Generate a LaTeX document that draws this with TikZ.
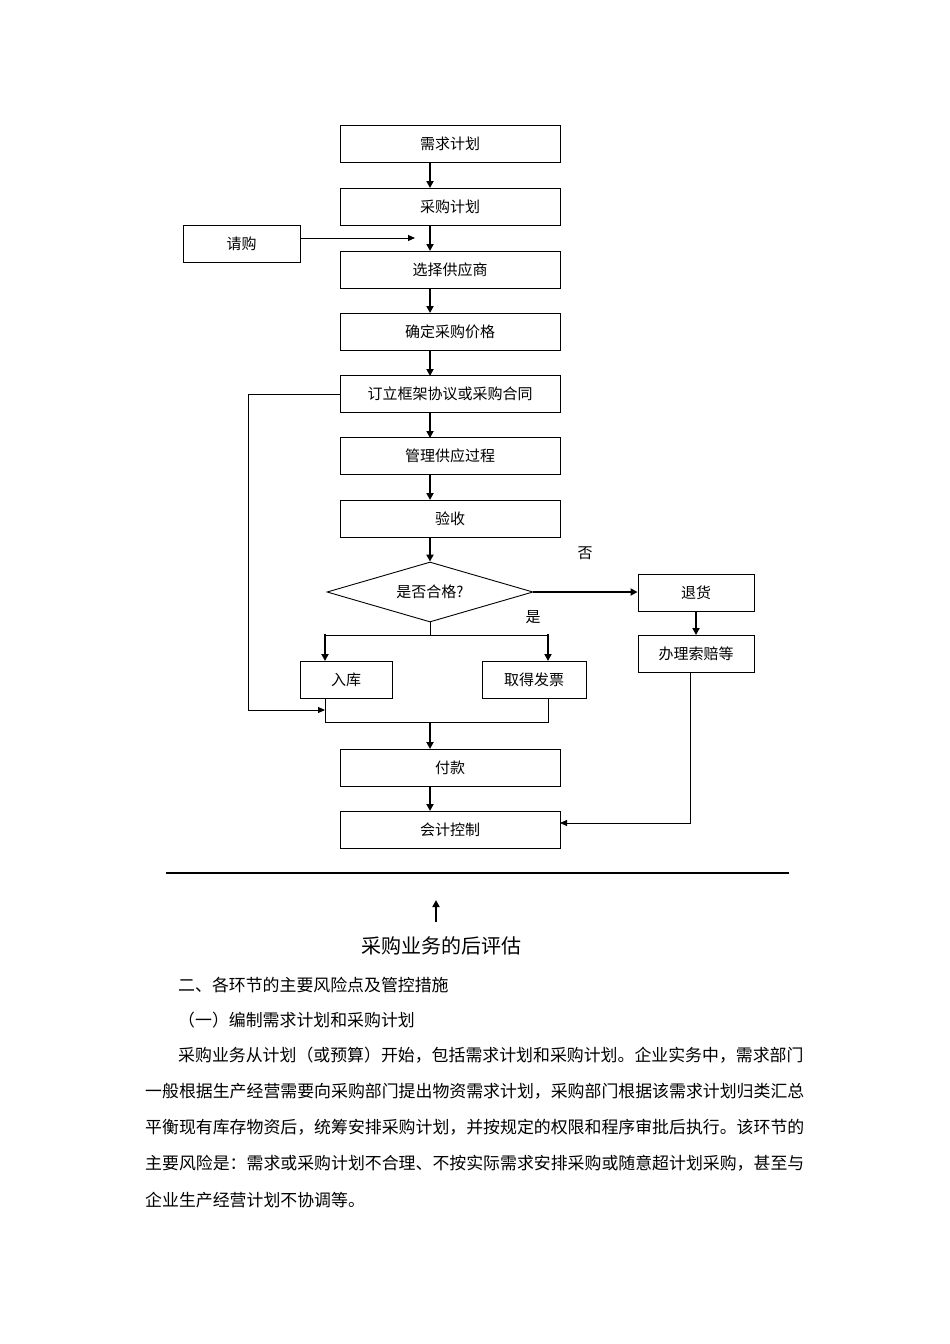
\documentclass[tikz,border=0pt]{standalone}
\usepackage{fontspec}
\setmainfont{Noto Sans CJK SC}
\usetikzlibrary{arrows.meta,shapes.geometric}
\begin{document}
\begin{tikzpicture}[x=1pt,y=-1pt,
  bx/.style={draw,line width=0.9pt,minimum height=37pt,inner sep=0pt,font=\fontsize{15}{15}\selectfont},
  ar/.style={line width=2pt,-{Triangle[length=7pt,width=7pt]}},
  ln/.style={line width=1pt},
  para/.style={anchor=west,inner sep=0pt,font=\fontsize{16.9}{17}\selectfont}]
\useasboundingbox[fill=white] (0,0) rectangle (950,1344);
\foreach \n/\t/\y in {a/需求计划/144,b/采购计划/206.5,c/选择供应商/269.5,d/确定采购价格/331.5,e/订立框架协议或采购合同/394,f/管理供应过程/456,g/验收/518.5,p/付款/767.5,k/会计控制/829.5}
  \node[bx,minimum width=220pt] (\n) at (450,\y) {\t};
\node[bx,minimum width=117pt] (q) at (241.5,244) {请购};
\node[bx,minimum width=116pt] (t) at (696,593) {退货};
\node[bx,minimum width=116pt] (s) at (696,654) {办理索赔等};
\node[bx,minimum width=92pt] (r) at (346,679.5) {入库};
\node[bx,minimum width=104pt] (v) at (534,679.5) {取得发票};
\node[draw,line width=0.9pt,diamond,aspect=3.5,minimum width=206pt,minimum height=60pt,inner sep=0pt,font=\fontsize{15}{15}\selectfont] (z) at (430,592) {是否合格?};
\draw[ar] (430,162) -- (430,188);
\draw[ar] (430,225) -- (430,251);
\draw[ln,-{Triangle[length=7pt,width=6pt]}] (q.east) ++(0,-6) -- (415,238);
\draw[ar] (430,288) -- (430,313);
\draw[ar] (430,350) -- (430,376);
\draw[ar] (430,412) -- (430,438);
\draw[ar] (430,474) -- (430,500);
\draw[ar] (430,537) -- (z.north);
\draw[ar] (z.east) -- (t.west|-z.east);
\draw[ar] (696,611) -- (s.north);
\draw[ln] (z.south) -- (430,635);
\draw[ln] (325,635) -- (548,635);
\draw[ar] (325,634) -- (325,661);
\draw[ar] (548,634) -- (548,661);
\draw[ln] (325,698) -- (325,722) -- (548,722) -- (548,698);
\draw[ar] (430,722) -- (430,749);
\draw[ar] (430,786) -- (430,811);
\draw[ln,-{Triangle[length=7pt,width=6pt]}] (e.west) -- (248,394) -- (248,710) -- (325,710);
\draw[ln,-{Triangle[length=7pt,width=6pt]}] (690,672) -- (690,823) -- (560,823);
\node[font=\fontsize{15}{15}\selectfont] (no) at (585,553) {否};
\node[font=\fontsize{15}{15}\selectfont] (yes) at (533,617) {是};
\draw[line width=2.5pt] (166,873) -- (789,873);
\draw[ar] (436,922) -- (436,900);
\node[font=\fontsize{20}{20}\selectfont] (pe) at (441,946) {采购业务的后评估};
\node[para] (l1) at (178,985) {二、各环节的主要风险点及管控措施};
\node[para] (l2) at (178,1020) {（一）编制需求计划和采购计划};
\node[para] (l3) at (178,1055) {采购业务从计划（或预算）开始，包括需求计划和采购计划。企业实务中，需求部门};
\node[para] (l4) at (145,1091) {一般根据生产经营需要向采购部门提出物资需求计划，采购部门根据该需求计划归类汇总};
\node[para] (l5) at (145,1127) {平衡现有库存物资后，统筹安排采购计划，并按规定的权限和程序审批后执行。该环节的};
\node[para] (l6) at (145,1163) {主要风险是：需求或采购计划不合理、不按实际需求安排采购或随意超计划采购，甚至与};
\node[para] (l7) at (145,1200) {企业生产经营计划不协调等。};
\end{tikzpicture}
\end{document}
